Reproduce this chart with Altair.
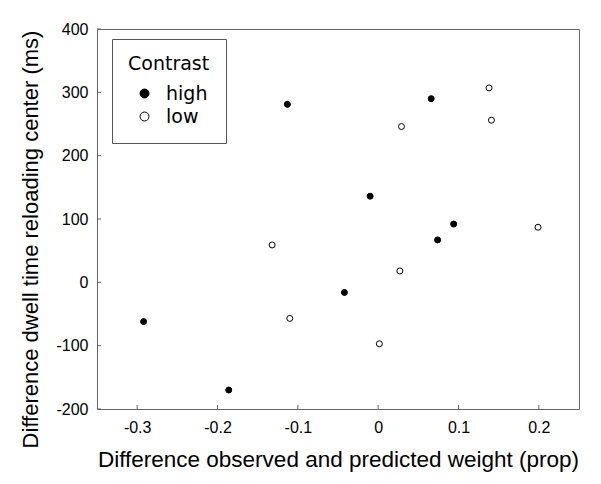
import altair as alt
import pandas as pd

high_x = [-0.292, -0.186, -0.113, 0.066, -0.010, 0.094, 0.074, -0.042]
high_y = [-62, -170, 281, 290, 136, 92, 67, -16]
low_x = [0.138, 0.141, 0.029, 0.199, -0.132, -0.110, 0.027, 0.0015]
low_y = [307, 256, 246, 87, 59, -57, 18, -97]
x_ticks = [-0.3, -0.2, -0.1, 0, 0.1, 0.2]
y_ticks = [-200, -100, 0, 100, 200, 300, 400]

df = pd.DataFrame({
    "x": high_x + low_x,
    "y": high_y + low_y,
    "Contrast": ["high"] * len(high_x) + ["low"] * len(low_x),
})
xt = pd.DataFrame({"v": x_ticks})
yt = pd.DataFrame({"v": y_ticks})

W, H = 482, 380
xscale = alt.Scale(domain=[-0.35, 0.25], nice=False, zero=False)
yscale = alt.Scale(domain=[-200, 400], nice=False, zero=False)

xaxis = alt.Axis(
    values=x_ticks, ticks=False, grid=False, domain=False,
    labelFont="Liberation Sans", labelFontSize=16, labelColor="black",
    labelPadding=10,
    labelExpr="replace(format(datum.value, '~g'), '\u2212', '-')",
    title="Difference observed and predicted weight (prop)",
    titleFont="Liberation Sans", titleFontSize=22.5, titleFontWeight="normal",
    titleColor="black", titleX=241, titleY=57, titleBaseline="alphabetic",
    titleAlign="center",
)
yaxis = alt.Axis(
    values=y_ticks, ticks=False, grid=False, domain=False,
    labelFont="Liberation Sans", labelFontSize=16, labelColor="black",
    labelPadding=9,
    labelExpr="replace(format(datum.value, '~g'), '\u2212', '-')",
    title="Difference dwell time reloading center (ms)",
    titleFont="Liberation Sans", titleFontSize=22, titleFontWeight="normal",
    titleColor="black", titleX=-60, titleY=210, titleAngle=270,
    titleBaseline="alphabetic", titleAlign="center",
)

points = alt.Chart(df).mark_point(
    filled=True, shape="circle", size=36, stroke="black", strokeWidth=1, opacity=1
).encode(
    x=alt.X("x:Q", scale=xscale, axis=xaxis),
    y=alt.Y("y:Q", scale=yscale, axis=yaxis),
    fill=alt.Fill(
        "Contrast:N",
        scale=alt.Scale(domain=["high", "low"], range=["black", "white"]),
        legend=alt.Legend(
            orient="none", legendX=15, legendY=10,
            strokeColor="#555", fillColor="white", padding=16,
            title="Contrast", titleFont="DejaVu Sans", titleFontSize=19,
            titleFontWeight="normal", titleColor="black", titlePadding=10,
            labelFont="DejaVu Sans", labelFontSize=19, labelColor="black",
            symbolType="circle", symbolSize=80, symbolStrokeColor="black",
            symbolStrokeWidth=1, symbolOffset=7, labelOffset=12, rowPadding=3,
        ),
    ),
)

xtick_rules = alt.Chart(xt).mark_rule(color="#666", strokeWidth=1).encode(
    x=alt.X("v:Q", scale=xscale),
    y=alt.value(H),
    y2=alt.value(H - 4),
)
ytick_rules = alt.Chart(yt).mark_rule(color="#666", strokeWidth=1).encode(
    y=alt.Y("v:Q", scale=yscale),
    x=alt.value(0),
    x2=alt.value(4),
)

chart = alt.layer(xtick_rules, ytick_rules, points).properties(
    width=W, height=H,
    autosize=alt.AutoSizeParams(type="none"),
    padding={"left": 89, "top": 21, "right": 12, "bottom": 65},
).configure_view(stroke="#666", strokeWidth=1)

chart.save("out.html", embed_options={"renderer": "svg", "actions": False})
